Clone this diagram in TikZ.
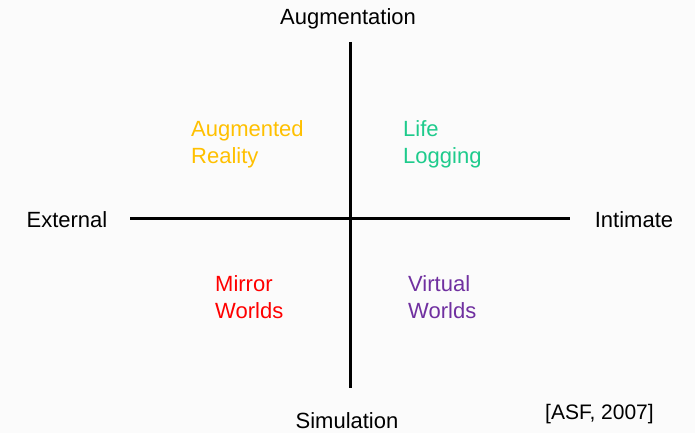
\documentclass[tikz,border=0pt]{standalone}
\usepackage{fontspec}
\setmainfont{Liberation Sans}
\definecolor{bgpaper}{HTML}{FBFBFB}
\definecolor{augcol}{HTML}{FFC000}
\definecolor{lifecol}{HTML}{1ECB8C}
\definecolor{mirrorcol}{HTML}{FF0000}
\definecolor{virtcol}{HTML}{7030A0}
\begin{document}
\begin{tikzpicture}[x=1pt, y=-1pt, every node/.style={inner sep=0pt, font=\fontsize{22}{27}\selectfont},
  quad/.style={align=left, anchor=base west}, axis/.style={line width=3pt, black}]
  \useasboundingbox[fill=bgpaper] (0,0) rectangle (695,433);

  % Axes
  \coordinate (top) at (350,42);
  \coordinate (bottom) at (350,388);
  \coordinate (left) at (130,218);
  \coordinate (right) at (570,218);
  \draw[axis] (top) -- (bottom);
  \draw[axis] (left) -- (right);

  % Axis labels
  \node[anchor=base] (aug) at (348,25) {Augmentation};
  \node[anchor=base] (sim) at (347,428) {Simulation};
  \node[anchor=base] (ext) at (67,227) {External};
  \node[anchor=base] (int) at (634,227) {Intimate};

  % Quadrants (base = last line)
  \node[quad, text=augcol] (ar) at (191,163) {Augmented\\Reality};
  \node[quad, text=lifecol] (ll) at (403,163) {Life\\Logging};
  \node[quad, text=mirrorcol] (mw) at (215,318) {Mirror\\Worlds};
  \node[quad, text=virtcol] (vw) at (408,318) {Virtual\\Worlds};

  \node[anchor=base west, font=\fontsize{21}{25}\selectfont] (src) at (545,419) {[ASF, 2007]};
\end{tikzpicture}
\end{document}
